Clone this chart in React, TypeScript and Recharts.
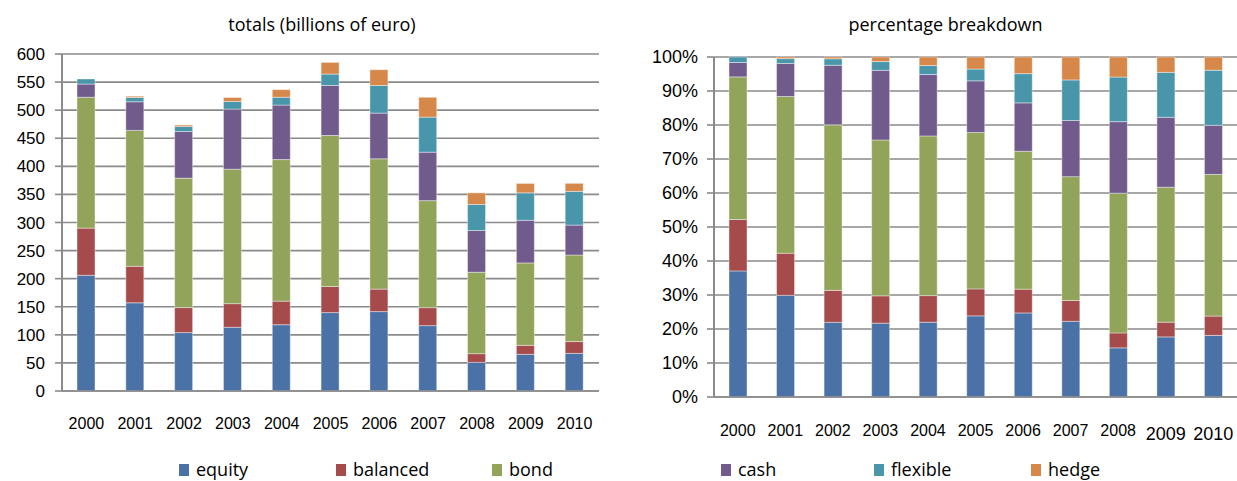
import React from "react";
import { BarChart, Bar, XAxis, YAxis, CartesianGrid } from "recharts";

const years = ["2000", "2001", "2002", "2003", "2004", "2005", "2006", "2007", "2008", "2009", "2010"];
const equity = [206, 157, 104, 113.5, 118, 139.6, 141.4, 116.4, 51, 65.3, 67];
const balanced = [84, 65, 44.5, 42, 42, 46.4, 40, 32, 15.5, 16, 21];
const bond = [233, 242, 230.5, 239.5, 252, 269, 232, 190.5, 145, 146.7, 154];
const cash = [23.5, 51, 83, 107, 97, 89, 81.4, 86.3, 74.2, 76, 53.4];
const flexible = [9, 7.5, 9, 13.5, 14, 20.3, 49.2, 62.4, 46.3, 48.8, 60];
const hedge = [0, 2.5, 2.5, 7, 13.5, 20.7, 28, 35.3, 20.8, 16.7, 14.3];

const totalTicks = [0, 50, 100, 150, 200, 250, 300, 350, 400, 450, 500, 550, 600];
const pctTicks = [0, 0.1, 0.2, 0.3, 0.4, 0.5, 0.6, 0.7, 0.8, 0.9, 1];

const seriesNames = ["equity", "balanced", "bond", "cash", "flexible", "hedge"];
const seriesValues = [equity, balanced, bond, cash, flexible, hedge];
const seriesColors = ["#4A72A6", "#A54B4B", "#92A35A", "#715B8C", "#4996AB", "#D6874A"];

const data = years.map((y, i) => {
  const row: any = { year: y };
  seriesNames.forEach((n, k) => (row[n] = seriesValues[k][i]));
  return row;
});

const FONT = "'Liberation Sans', Arial, sans-serif";
const HFONT = "'Open Sans', 'Liberation Sans', sans-serif";
const GRID = "#8A8A8A";

const RightTick = (props: any) => {
  const { x, y, payload, index } = props;
  const big = index >= 9;
  return (
    <text
      x={x}
      y={y + (big ? 2 : 0)}
      dy="0.71em"
      textAnchor="middle"
      fill="#000"
      fontFamily={FONT}
      fontSize={big ? 18 : 16}
    >
      {payload.value}
    </text>
  );
};

function bars() {
  return seriesNames.map((n, k) => (
    <Bar
      key={n}
      dataKey={n}
      stackId="a"
      fill={seriesColors[k]}
      stroke="#ffffff"
      strokeOpacity={0.5}
      strokeWidth={0.8}
      barSize={18}
      isAnimationActive={false}
    />
  ));
}

export default function App() {
  return (
    <div
      style={{
        position: "absolute",
        left: 0,
        top: 0,
        width: 1237,
        height: 481,
        overflow: "hidden",
        background: "#fff",
        fontFamily: FONT,
      }}
    >
      <div style={{ position: "absolute", left: 62, width: 520, top: 12, textAlign: "center", fontSize: 18, fontFamily: HFONT, color: "#000" }}>
        totals (billions of euro)
      </div>
      <div style={{ position: "absolute", left: 714, width: 463, top: 12, textAlign: "center", fontSize: 18, fontFamily: HFONT, color: "#000" }}>
        percentage breakdown
      </div>

      <div style={{ position: "absolute", left: 0, top: 0 }}>
        <BarChart width={610} height={481} data={data} margin={{ top: 54, right: 11, bottom: 50, left: 0 }}>
          <CartesianGrid vertical={false} stroke={GRID} strokeWidth={1.6} />
          <XAxis
            dataKey="year"
            height={40}
            tickSize={0}
            tickMargin={27}
            axisLine={{ stroke: GRID, strokeWidth: 1.6 }}
            tick={{ fill: "#000", fontSize: 16, fontFamily: FONT }}
            interval={0}
          />
          <YAxis
            width={62}
            domain={[0, 600]}
            ticks={totalTicks}
            interval={0}
            tickSize={7}
            tickMargin={10}
            axisLine={{ stroke: GRID, strokeWidth: 2 }}
            tickLine={{ stroke: GRID, strokeWidth: 1.6 }}
            tick={{ fill: "#000", fontSize: 17, fontFamily: FONT }}
          />
          {bars()}
        </BarChart>
      </div>

      <div style={{ position: "absolute", left: 620, top: 0 }}>
        <BarChart width={617} height={481} data={data} stackOffset="expand" margin={{ top: 57, right: 0, bottom: 44, left: 0 }}>
          <CartesianGrid vertical={false} stroke={GRID} strokeWidth={1.6} />
          <XAxis
            dataKey="year"
            height={40}
            tickSize={0}
            tickMargin={28}
            axisLine={{ stroke: GRID, strokeWidth: 1.6 }}
            tick={<RightTick />}
            interval={0}
          />
          <YAxis
            width={94}
            domain={[0, 1]}
            ticks={pctTicks}
            interval={0}
            tickSize={7}
            tickMargin={9}
            tickFormatter={(v: number) => `${Math.round(v * 100)}%`}
            axisLine={{ stroke: GRID, strokeWidth: 2 }}
            tickLine={{ stroke: GRID, strokeWidth: 1.6 }}
            tick={{ fill: "#000", fontSize: 18, fontFamily: FONT }}
          />
          {bars()}
        </BarChart>
      </div>

      {seriesNames.map((n, k) => {
        const lefts = [179, 336, 492, 721, 874, 1031];
        return (
          <div
            key={n}
            style={{
              position: "absolute",
              left: lefts[k],
              top: 458,
              height: 23,
              lineHeight: "23px",
              display: "flex",
              alignItems: "center",
              fontSize: 18,
              fontFamily: HFONT,
              color: "#000",
              whiteSpace: "nowrap",
            }}
          >
            <span style={{ display: "inline-block", width: 10, height: 12, background: seriesColors[k], marginRight: 7 }} />
            <span>{n}</span>
          </div>
        );
      })}
    </div>
  );
}
